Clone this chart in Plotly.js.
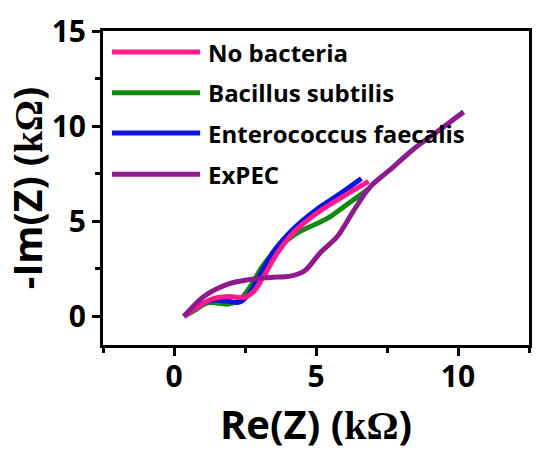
<!DOCTYPE html>
<html>
<head>
<meta charset="utf-8">
<script src="https://cdn.plot.ly/plotly-3.0.1.min.js"></script>
<style>html,body{margin:0;padding:0;background:#fff;}#chart{width:550px;height:456px;}</style>
</head>
<body>
<div id="chart"></div>
<script>
// Series names (legend order)
const seriesNames = ["No bacteria", "Bacillus subtilis", "Enterococcus faecalis", "ExPEC"];
const seriesColors = ["#ff1a8c", "#128a12", "#0814e0", "#8e1a8e"];

// Re(Z) / -Im(Z) in kΩ
const noBacteriaX = [0.35, 0.7, 1.3, 1.9, 2.45, 2.8, 3.15, 3.65, 4.2, 5.05, 5.95, 6.85];
const noBacteriaY = [0.0, 0.37, 0.9, 1.05, 1.0, 1.3, 2.1, 3.35, 4.4, 5.45, 6.3, 7.1];

const bacillusX = [0.35, 0.7, 1.2, 1.9, 2.3, 2.7, 3.1, 3.6, 4.3, 5.4, 6.1, 6.9];
const bacillusY = [0.0, 0.3, 0.72, 0.65, 0.85, 1.6, 2.6, 3.5, 4.35, 5.15, 5.9, 6.75];

const enterococcusX = [0.35, 0.7, 1.3, 1.9, 2.3, 2.65, 3.0, 3.5, 4.2, 5.0, 5.8, 6.6];
const enterococcusY = [0.0, 0.4, 0.85, 0.8, 0.75, 1.2, 2.1, 3.4, 4.6, 5.6, 6.4, 7.25];

const expecX = [0.35, 1.05, 1.9, 2.7, 3.4, 4.1, 4.6, 5.15, 5.75, 6.3, 6.9, 7.6, 8.4, 9.3, 10.2];
const expecY = [0.0, 1.05, 1.7, 1.95, 2.05, 2.12, 2.4, 3.35, 4.2, 5.5, 6.8, 7.7, 8.75, 9.75, 10.75];

const xTickVals = [0, 5, 10];
const yTickVals = [0, 5, 10, 15];

const seriesX = [noBacteriaX, bacillusX, enterococcusX, expecX];
const seriesY = [noBacteriaY, bacillusY, enterococcusY, expecY];

const FONT = "'Open Sans', Lato, sans-serif";

// drawing order: green, blue, pink, purple on top
const drawOrder = [1, 2, 0, 3];
const traces = drawOrder.map(i => ({
  type: "scatter", mode: "lines",
  x: seriesX[i], y: seriesY[i], name: seriesNames[i],
  line: {color: seriesColors[i], width: 5, shape: "spline", smoothing: 0.9},
  showlegend: false, hoverinfo: "skip"
}));

// manual legend (long line samples like the reference)
const legY = [0.933, 0.803, 0.675, 0.544];
const shapes = seriesNames.map((n, i) => ({
  type: "line", xref: "paper", yref: "paper",
  x0: 0.021, x1: 0.228, y0: legY[i], y1: legY[i],
  line: {color: seriesColors[i], width: 5}
}));
const annotations = seriesNames.map((n, i) => ({
  xref: "paper", yref: "paper", x: 0.242, y: legY[i],
  xanchor: "left", yanchor: "middle", showarrow: false,
  text: "<b>" + n + "</b>",
  font: {family: FONT, size: 24, color: "#000"}
}));

const omega = "<span style='font-family:\"Liberation Serif\",serif'>kΩ</span>";

const layout = {
  width: 550, height: 456,
  margin: {l: 103, r: 21, t: 31, b: 111},
  paper_bgcolor: "#fff", plot_bgcolor: "#fff",
  font: {family: FONT, color: "#000"},
  xaxis: {
    range: [-2.5, 12.5], tickvals: xTickVals, ticktext: xTickVals.map(v => "<b>" + v + "</b>"),
    ticks: "outside", ticklen: 8, tickwidth: 3, tickcolor: "#000", ticklabelstandoff: -5,
    minor: {tickvals: [-2.5, 2.5, 7.5, 12.5], ticks: "outside", ticklen: 5, tickwidth: 3, tickcolor: "#000"},
    showline: true, linewidth: 3, linecolor: "#000", mirror: true,
    showgrid: false, zeroline: false,
    tickfont: {size: 30, family: FONT, color: "#000"},
    title: {text: "<b>Re(Z) (" + omega + ")</b>", font: {size: 40, family: FONT, color: "#000"}, standoff: 4}
  },
  yaxis: {
    range: [-1.5, 15], tickvals: yTickVals, ticktext: yTickVals.map(v => "<b>" + v + "</b>"),
    ticks: "outside", ticklen: 8, tickwidth: 3, tickcolor: "#000",
    minor: {tickvals: [2.5, 7.5, 12.5], ticks: "outside", ticklen: 5, tickwidth: 3, tickcolor: "#000"},
    showline: true, linewidth: 3, linecolor: "#000", mirror: true,
    showgrid: false, zeroline: false,
    tickfont: {size: 30, family: FONT, color: "#000"},
    title: {text: "<b>-Im(Z) (" + omega + ")</b>", font: {size: 39, family: FONT, color: "#000"}, standoff: 2}
  },
  shapes: shapes,
  annotations: annotations
};

Plotly.newPlot("chart", traces, layout, {staticPlot: true, displayModeBar: false});
</script>
</body>
</html>
